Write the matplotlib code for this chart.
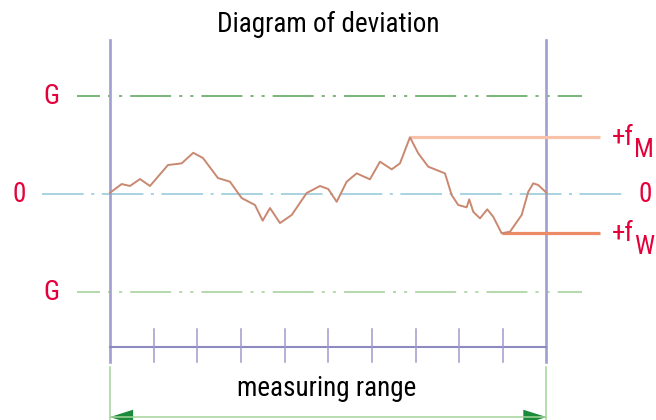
import matplotlib
matplotlib.use('Agg')
import matplotlib.pyplot as plt
from matplotlib import font_manager

# look for a narrow sans (reference uses a condensed grotesk)
fp = None
want = ['Liberation Sans Narrow', 'Roboto Condensed', 'DejaVu Sans Condensed', 'Noto Sans Condensed',
        'Open Sans Condensed']
fonts = font_manager.fontManager.ttflist
for w in want:
    for f in fonts:
        if (f.name == w or (w.startswith(f.name) and 'ondensed' in f.fname) or
                w.replace(' ', '') in f.fname.replace('-', '')) and 'Bold' not in f.fname \
                and 'Italic' not in f.fname and 'Oblique' not in f.fname:
            fp = f.fname
            break
    if fp:
        break
if fp is None:
    for f in fonts:
        if ('Condensed' in f.fname or 'Narrow' in f.fname) and 'Bold' not in f.fname \
                and 'Italic' not in f.fname and 'Oblique' not in f.fname and 'Light' not in f.fname:
            fp = f.fname
            break
if fp is None:
    plt.rcParams['font.family'] = ['Liberation Sans', 'DejaVu Sans']
    FP = font_manager.FontProperties(family=['Liberation Sans', 'DejaVu Sans'])
else:
    FP = font_manager.FontProperties(fname=fp)
plt.rcParams['lines.scale_dashes'] = False

# measured profile: x in tick units of the measuring range (0..10), y deviation (G = 1)
prof_x = [0.0, 0.268, 0.458, 0.687, 0.916, 1.329, 1.643, 1.908, 2.131, 2.474, 2.749,
          3.017, 3.322, 3.498, 3.666, 3.895, 4.163, 4.506, 4.811, 5.001, 5.194, 5.423,
          5.652, 5.956, 6.186, 6.454, 6.644, 6.873, 7.063, 7.292, 7.675, 7.828, 7.979,
          8.172, 8.231, 8.323, 8.477, 8.644, 8.781, 8.974, 9.164, 9.432, 9.583, 9.698,
          9.812, 10.0]
prof_y = [0.013, 0.102, 0.082, 0.153, 0.082, 0.296, 0.313, 0.421, 0.367, 0.163, 0.126,
          -0.041, -0.112, -0.272, -0.143, -0.296, -0.214, 0.010, 0.082, 0.051, -0.079, 0.126,
          0.211, 0.150, 0.330, 0.252, 0.313, 0.579, 0.415, 0.279, 0.211, -0.010, -0.112,
          -0.136, -0.054, -0.181, -0.248, -0.156, -0.232, -0.401, -0.385, -0.214, 0.023, 0.109,
          0.092, 0.013]
range_start = 0
range_end = 10
ticks = [1, 2, 3, 4, 5, 6, 7, 8, 9]
G = 1.0
title = 'Diagram of deviation'
xlabel = 'measuring range'

red = '#e4003a'
purple = '#a19ed0'
fs = 19.5 if fp else 17
FP.set_size(fs)
FPs = FP.copy()
FPs.set_size(fs - 0.5)

fig = plt.figure(figsize=(6.56, 4.2), dpi=100)
ax = fig.add_axes([0, 0, 1, 1])
ax.set_xlim(-2.52, 12.51)
ax.set_ylim(-2.306, 1.98)
ax.axis('off')

# limit lines G and zero line
gdash = (13, (29.5, 5.8, 2.2, 5.8, 2.2, 5.8))
ax.plot([-0.756, 10.81], [G, G], color='#79b478', lw=1.4, ls=gdash)
ax.plot([-0.756, 10.81], [-G, -G], color='#b4d8ab', lw=1.4, ls=gdash)
ax.plot([-1.56, 11.84], [0, 0], color='#a9d3e3', lw=1.4, ls=(0, (30, 5.4, 2.2, 5.4)))

# range borders
for xv in [range_start, range_end]:
    ax.plot([xv, xv], [-1.714, 1.571], color=purple, lw=1.9)

# max / min deviation levels
fM = max(prof_y)
fW = min(prof_y)
ax.plot([prof_x[prof_y.index(fM)], 11.23], [fM, fM], color='#f7c1aa', lw=2.3, solid_capstyle='butt')
ax.plot([prof_x[prof_y.index(fW)], 11.23], [fW, fW], color='#ee8b67', lw=2.3, solid_capstyle='butt')

# profile
ax.plot(prof_x, prof_y, color='#c98870', lw=1.4, solid_joinstyle='round')

# bottom scale
ax.plot([range_start, range_end], [-1.561, -1.561], color='#8d89c1', lw=1.5)
for t in ticks:
    ax.plot([t, t], [-1.378, -1.714], color='#9e9bcc', lw=1.1)

# measuring range bracket
for xv in [range_start, range_end]:
    ax.plot([xv, xv], [-1.765, -2.31], color='#a3d39a', lw=1.1)
ya = -2.276
ax.plot([range_start, range_end], [ya, ya], color='#a3d39a', lw=1.1)
hl, hw = 0.53, 0.075
ax.fill([range_start, range_start + hl, range_start + hl], [ya, ya + hw, ya - hw], color='#1b8b3b', lw=0)
ax.fill([range_end, range_end - hl, range_end - hl], [ya, ya + hw, ya - hw], color='#1b8b3b', lw=0)

# texts
ax.text(4.99, 1.735, title, ha='center', va='center', fontproperties=FP, color='black')
ax.text(4.97, -1.98, xlabel, ha='center', va='center', fontproperties=FP, color='black')
ax.text(-1.352, G, 'G', ha='center', va='center', fontproperties=FP, color=red)
ax.text(-1.352, -G, 'G', ha='center', va='center', fontproperties=FP, color=red)
ax.text(-2.085, 0, '0', ha='center', va='center', fontproperties=FP, color=red)
ax.text(12.26, 0, '0', ha='center', va='center', fontproperties=FP, color=red)
for lev, sub in [(fM, 'M'), (fW, 'W')]:
    t = ax.text(11.5, lev, '+f', ha='left', va='center', fontproperties=FP, color=red)
    ax.annotate(sub, xy=(1.0, 0.5), xycoords=t, xytext=(0, -9.5), textcoords='offset points',
                ha='left', va='center', fontproperties=FPs, color=red)

fig.savefig('out.png', dpi=100)
